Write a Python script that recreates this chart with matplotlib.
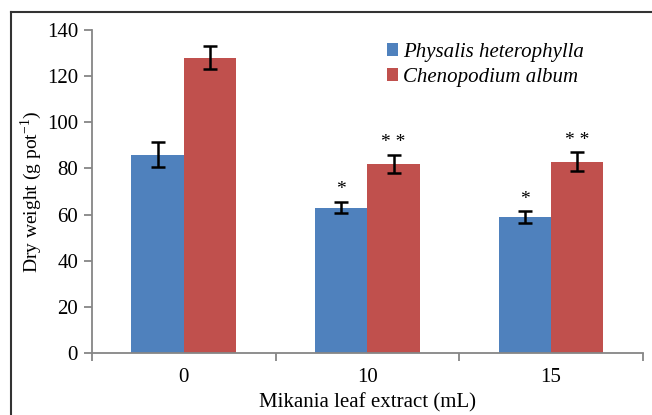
import matplotlib
matplotlib.use('Agg')
import matplotlib.pyplot as plt
from matplotlib.lines import Line2D
import numpy as np

plt.rcParams['font.family'] = 'Liberation Serif'
plt.rcParams['mathtext.fontset'] = 'custom'
plt.rcParams['mathtext.rm'] = 'Liberation Serif'

doses = ['0', '10', '15']
physalis = [86, 63, 59]
physalis_err = [5.3, 2.5, 2.5]
chenopodium = [128, 82, 83]
chenopodium_err = [5, 4, 4]
physalis_sig = ['', '*', '*']
chenopodium_sig = ['', '* *', '* *']

fig = plt.figure(figsize=(6.52, 4.15), dpi=100)
ax = fig.add_axes([0.141, 0.149, 0.845, 0.779])

x = np.arange(len(doses))
w = 0.285
ax.bar(x - w / 2, physalis, w, color='#4F81BD', label='Physalis heterophylla')
ax.bar(x + w / 2, chenopodium, w, color='#C0504D', label='Chenopodium album')
ax.errorbar(x - w / 2, physalis, yerr=physalis_err, fmt='none', ecolor='black',
            elinewidth=1.8, capsize=5, capthick=1.8)
ax.errorbar(x + w / 2, chenopodium, yerr=chenopodium_err, fmt='none', ecolor='black',
            elinewidth=1.8, capsize=5, capthick=1.8)

for i in range(len(doses)):
    if physalis_sig[i]:
        ax.text(x[i] - w / 2, physalis[i] + physalis_err[i] + 1.5, physalis_sig[i],
                ha='center', va='bottom', fontsize=14)
    if chenopodium_sig[i]:
        ax.text(x[i] + w / 2, chenopodium[i] + chenopodium_err[i] + 1.5, chenopodium_sig[i],
                ha='center', va='bottom', fontsize=14)

ax.set_xlim(-0.5, len(doses) - 0.5)
ax.set_ylim(0, 140)
ax.set_yticks(range(0, 141, 20))
ax.set_xticks(x)
ax.set_xticklabels(doses)
ax.set_xticks(np.arange(-0.5, len(doses), 1), minor=True)
ax.tick_params(axis='x', which='major', length=0, labelsize=15, pad=11)
ax.tick_params(axis='x', which='minor', length=6, width=1.3, color='#868686', direction='out')
ax.tick_params(axis='y', length=6, width=1.3, color='#868686', labelsize=15, pad=4)

for s in ['top', 'right']:
    ax.spines[s].set_visible(False)
for s in ['left', 'bottom']:
    ax.spines[s].set_color('#868686')
    ax.spines[s].set_linewidth(1.3)

ax.set_ylabel(r'Dry weight (g pot$^{\mathregular{-1}}$)', fontsize=14, labelpad=2)
ax.set_xlabel('Mikania leaf extract (mL)', fontsize=15, labelpad=4)

ax.legend(loc='upper left', bbox_to_anchor=(0.535, 0.96), frameon=False,
          prop={'style': 'italic', 'size': 15}, handlelength=0.55,
          handleheight=0.55, handletextpad=0.25, labelspacing=0.3,
          borderpad=0, borderaxespad=0)

# outer frame
fig.add_artist(Line2D([11 / 652, 11 / 652], [0, 1 - 12 / 415], color='#333333', lw=1.5))
fig.add_artist(Line2D([11 / 652, 1], [1 - 12 / 415, 1 - 12 / 415], color='#333333', lw=1.5))

fig.savefig('out.png', dpi=100)
